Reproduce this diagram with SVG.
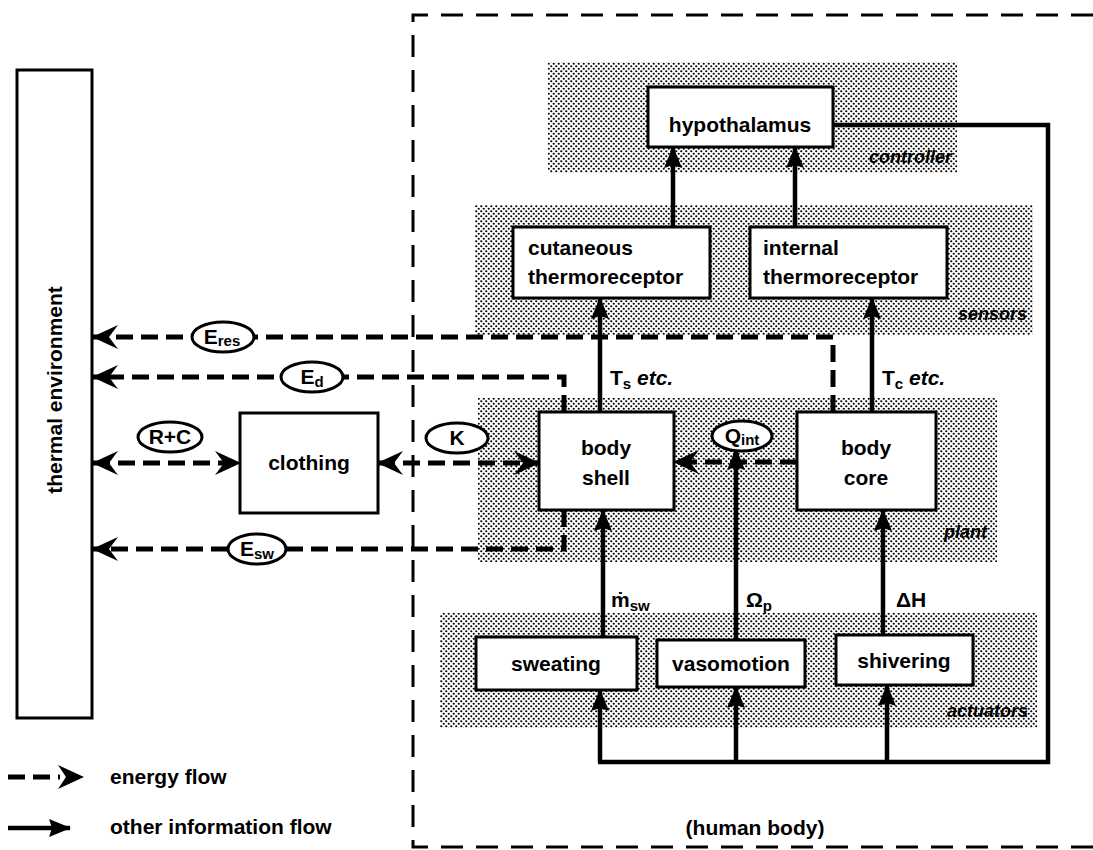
<svg xmlns="http://www.w3.org/2000/svg" width="1093" height="850" viewBox="0 0 1093 850">
<defs>
<pattern id="dots" width="5" height="5" patternUnits="userSpaceOnUse">
<rect width="5" height="5" fill="#fff"/>
<circle cx="1.25" cy="1.25" r="1.1" fill="#000"/>
<circle cx="3.75" cy="3.75" r="1.1" fill="#000"/>
</pattern>
<marker id="eArr" viewBox="0 0 26 24" refX="25" refY="12" markerWidth="26" markerHeight="24" markerUnits="userSpaceOnUse" orient="auto-start-reverse">
<path d="M0,0 L26,12 L0,24 L9,12 Z" fill="#000"/>
</marker>
<marker id="iArr" viewBox="0 0 22 18" refX="21" refY="9" markerWidth="22" markerHeight="18" markerUnits="userSpaceOnUse" orient="auto">
<path d="M0,0 L22,9 L0,18 L3,9 Z" fill="#000"/>
</marker>
<style>
.box{fill:#fff;stroke:#000;stroke-width:3}
.shade{fill:url(#dots)}
.t{font-family:'Liberation Sans',Arial,sans-serif;font-weight:bold;font-size:21px;fill:#000}
.s{font-size:15px}
.it{font-family:'Liberation Sans',Arial,sans-serif;font-style:italic;font-weight:bold;font-size:18px;fill:#000}
.en{fill:none;stroke:#000;stroke-width:5;stroke-dasharray:17 8}
.inf{fill:none;stroke:#000;stroke-width:4.5}
.ell{fill:#fff;stroke:#000;stroke-width:3}
.hb{fill:none;stroke:#000;stroke-width:3;stroke-dasharray:22 13}
</style>
</defs>
<rect width="1093" height="850" fill="#fff"/>

<g id="human-body-border">
<path class="hb" d="M1093,15 H413 V847 H1093"/>
<text class="t" x="755" y="835" text-anchor="middle" font-weight="normal">(human body)</text>
</g>

<g id="bands">
<rect class="shade" x="548" y="62" width="409" height="111"/>
<rect class="shade" x="475" y="205" width="558" height="130"/>
<rect class="shade" x="478" y="398" width="519" height="164"/>
<rect class="shade" x="440" y="613" width="597" height="115"/>
<text class="it" x="952" y="163" text-anchor="end">controller</text>
<text class="it" x="1027" y="320" text-anchor="end">sensors</text>
<text class="it" x="987" y="538" text-anchor="end">plant</text>
<text class="it" x="1028" y="717" text-anchor="end">actuators</text>
</g>

<g id="connectors">
<path class="en" d="M833,412 V337 H93" marker-end="url(#eArr)"/>
<path class="en" d="M564,412 V377 H93" marker-end="url(#eArr)"/>
<path class="en" d="M564,510 V549 H93" marker-end="url(#eArr)"/>
<path class="en" d="M93,463 H240" marker-start="url(#eArr)" marker-end="url(#eArr)"/>
<path class="en" d="M378,463 H539" marker-start="url(#eArr)" marker-end="url(#eArr)"/>
<path class="en" d="M797,462 H674" marker-end="url(#eArr)"/>
<path class="inf" d="M833,125 H1048 V762 H598"/>
<path class="inf" d="M600,762 V690" marker-end="url(#iArr)"/>
<path class="inf" d="M736,762 V687" marker-end="url(#iArr)"/>
<path class="inf" d="M887,762 V685" marker-end="url(#iArr)"/>
<path class="inf" d="M603,637 V510" marker-end="url(#iArr)"/>
<path class="inf" d="M736,640 V449" marker-end="url(#iArr)"/>
<path class="inf" d="M883,635 V510" marker-end="url(#iArr)"/>
<path class="inf" d="M600,412 V298" marker-end="url(#iArr)"/>
<path class="inf" d="M872,412 V298" marker-end="url(#iArr)"/>
<path class="inf" d="M673,227 V147" marker-end="url(#iArr)"/>
<path class="inf" d="M795,227 V147" marker-end="url(#iArr)"/>
<g id="lbl-Eres"><ellipse class="ell" cx="223" cy="337" rx="31" ry="15"/><text class="t" x="222" y="344" text-anchor="middle" font-size="20">E<tspan class="s" dy="2">res</tspan></text></g>
<g id="lbl-Ed"><ellipse class="ell" cx="312" cy="377" rx="31" ry="15"/><text class="t" x="312" y="384" text-anchor="middle" font-size="20">E<tspan class="s" dy="3">d</tspan></text></g>
<g id="lbl-Esw"><ellipse class="ell" cx="257" cy="549" rx="29" ry="15"/><text class="t" x="257" y="556" text-anchor="middle" font-size="20">E<tspan class="s" dy="3">sw</tspan></text></g>
<g id="lbl-RC"><ellipse class="ell" cx="170" cy="437" rx="32" ry="15"/><text class="t" x="170" y="444" text-anchor="middle" font-size="20">R+C</text></g>
<g id="lbl-K"><ellipse class="ell" cx="457" cy="438" rx="31" ry="15"/><text class="t" x="457" y="445" text-anchor="middle" font-size="20">K</text></g>
<g id="lbl-Qint"><ellipse class="ell" cx="742" cy="436" rx="30" ry="15"/><text class="t" x="742" y="443" text-anchor="middle" font-size="20">Q<tspan class="s" dy="2">int</tspan></text></g>
<text class="t" x="610" y="385">T<tspan class="s" dy="4">s</tspan><tspan dy="-4" font-style="italic"> etc.</tspan></text>
<text class="t" x="882" y="385">T<tspan class="s" dy="4">c</tspan><tspan dy="-4" font-style="italic"> etc.</tspan></text>
<text class="t" x="611" y="607">ṁ<tspan class="s" dy="4">sw</tspan></text>
<text class="t" x="746" y="607">Ω<tspan class="s" dy="4">p</tspan></text>
<text class="t" x="896" y="607">ΔH</text>
</g>

<g id="thermal-environment">
<rect class="box" x="17" y="70" width="75" height="648"/>
<text class="t" transform="translate(62,390) rotate(-90)" text-anchor="middle">thermal environment</text>
</g>
<g id="clothing">
<rect class="box" x="240" y="413" width="138" height="100"/>
<text class="t" x="309" y="470" text-anchor="middle">clothing</text>
</g>
<g id="hypothalamus">
<rect class="box" x="648" y="87" width="185" height="60"/>
<text class="t" x="740" y="132" text-anchor="middle">hypothalamus</text>
</g>
<g id="cutaneous-thermoreceptor">
<rect class="box" x="513" y="227" width="197" height="71"/>
<text class="t" x="528" y="255">cutaneous</text>
<text class="t" x="528" y="284">thermoreceptor</text>
</g>
<g id="internal-thermoreceptor">
<rect class="box" x="750" y="227" width="197" height="71"/>
<text class="t" x="763" y="255">internal</text>
<text class="t" x="763" y="284">thermoreceptor</text>
</g>
<g id="body-shell">
<rect class="box" x="539" y="412" width="135" height="98"/>
<text class="t" x="606" y="455" text-anchor="middle">body</text>
<text class="t" x="606" y="485" text-anchor="middle">shell</text>
</g>
<g id="body-core">
<rect class="box" x="797" y="412" width="139" height="98"/>
<text class="t" x="866" y="455" text-anchor="middle">body</text>
<text class="t" x="866" y="485" text-anchor="middle">core</text>
</g>
<g id="sweating">
<rect class="box" x="476" y="637" width="161" height="53"/>
<text class="t" x="556" y="671" text-anchor="middle">sweating</text>
</g>
<g id="vasomotion">
<rect class="box" x="657" y="640" width="148" height="47"/>
<text class="t" x="731" y="671" text-anchor="middle">vasomotion</text>
</g>
<g id="shivering">
<rect class="box" x="836" y="635" width="137" height="50"/>
<text class="t" x="904" y="668" text-anchor="middle">shivering</text>
</g>

<g id="legend">
<path class="en" d="M8,777 H60" stroke-dasharray="15 10"/>
<path d="M58,765 L84,777 L58,789 L66,777 Z" fill="#000"/>
<text class="t" x="110" y="784" font-size="19">energy flow</text>
<path class="inf" d="M8,828 H70" marker-end="url(#iArr)"/>
<text class="t" x="110" y="834" font-size="19">other information flow</text>
</g>
</svg>
